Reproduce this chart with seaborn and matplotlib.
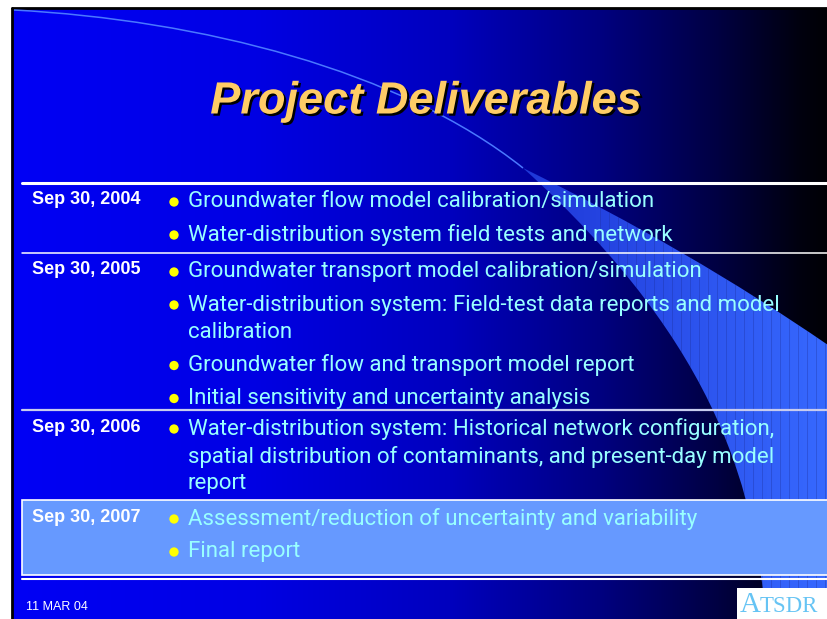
import numpy as np
import matplotlib
matplotlib.use("Agg")
import matplotlib.pyplot as plt
import matplotlib.patheffects as pe
import seaborn as sns
from matplotlib.path import Path
from matplotlib.patches import PathPatch, Rectangle

# === Slide content ===
title = "Project Deliverables"
dates = ["Sep 30, 2004", "Sep 30, 2005", "Sep 30, 2006", "Sep 30, 2007"]
items_2004 = [["Groundwater flow model calibration/simulation"],
              ["Water-distribution system field tests and network"]]
items_2005 = [["Groundwater transport model calibration/simulation"],
              ["Water-distribution system: Field-test data reports and model", "calibration"],
              ["Groundwater flow and transport model report"],
              ["Initial sensitivity and uncertainty analysis"]]
items_2006 = [["Water-distribution system: Historical network configuration,",
               "spatial distribution of contaminants, and present-day model",
               "report"]]
items_2007 = [["Assessment/reduction of uncertainty and variability"],
              ["Final report"]]
footer_date = "11 MAR 04"
logo_big, logo_small = "A", "TSDR"

rows = [items_2004, items_2005, items_2006, items_2007]
row_edges = [183, 253, 410, 500, 575]

sns.set_theme(style="white")
TEXT_FONT = ["Roboto", "DejaVu Sans"]
BOLD_FONT = ["Liberation Sans", "DejaVu Sans"]

W, H = 828, 619
fig = plt.figure(figsize=(8.28, 6.19), dpi=100, facecolor="white")
ax = fig.add_axes([0, 0, 1, 1])
ax.set_xlim(0, W)
ax.set_ylim(H, 0)
ax.axis("off")

# === Background gradient (blue -> black) ===
L, T = 13, 9
xs = np.linspace(L, W, 400)
stops_x = [L, 250, 450, 600, 720, 800, W]
stops_b = [245, 228, 190, 128, 65, 15, 5]
blue = np.interp(xs, stops_x, stops_b) / 255
grad = np.zeros((1, len(xs), 3))
grad[0, :, 2] = blue
ax.imshow(grad, extent=(L, W, H, T), aspect="auto", zorder=0)

# frame
ax.plot([L - 1, L - 1], [T - 1, H], color="black", lw=2, zorder=1)
ax.plot([L - 1, W], [T - 1, T - 1], color="black", lw=2, zorder=1)

# === Swoosh ===
band = Path([(523, 168), (690, 250), (828, 345), (828, 619), (766, 619),
             (755, 500), (725, 350), (523, 168), (523, 168)],
            [Path.MOVETO, Path.CURVE3, Path.CURVE3, Path.LINETO, Path.LINETO,
             Path.CURVE4, Path.CURVE4, Path.CURVE4, Path.CLOSEPOLY])
band_patch = PathPatch(band, facecolor="none", edgecolor="none", zorder=1)
ax.add_patch(band_patch)
bx = np.linspace(0, 1, 200)
bgrad = np.zeros((1, 200, 3))
bgrad[0, :, 0] = np.interp(bx, [0, 1], [30, 55]) / 255
bgrad[0, :, 1] = np.interp(bx, [0, 1], [55, 105]) / 255
bgrad[0, :, 2] = np.interp(bx, [0, 1], [215, 255]) / 255
im = ax.imshow(bgrad, extent=(523, W, H, 168), aspect="auto", zorder=1)
im.set_clip_path(band_patch)
for sx in np.arange(600, W, 9):
    ln = ax.plot([sx, sx], [168, H], color="#1a2a90", lw=0.6, alpha=0.35, zorder=1)[0]
    ln.set_clip_path(band_patch)

arc = Path([(14, 10), (200, 20), (400, 70), (523, 168)],
           [Path.MOVETO, Path.CURVE4, Path.CURVE4, Path.CURVE4])
ax.add_patch(PathPatch(arc, facecolor="none", edgecolor="#4a78ff", lw=1.1, zorder=1))

# === Title with drop shadow ===
ax.text(426, 102, title, color="#FFCC66", ha="center", va="center", fontsize=32.5,
        fontweight="bold", fontstyle="italic", family=BOLD_FONT, zorder=3,
        path_effects=[pe.SimplePatchShadow(offset=(1.6, -1.6), shadow_rgbFace="black",
                                           alpha=1.0), pe.Normal()])

# === Table ===
ax.add_patch(Rectangle((22, row_edges[3]), W - 22, row_edges[4] - row_edges[3],
                       facecolor="#6699FF", edgecolor="white", lw=1.2, zorder=2))
ax.plot([22, W], [row_edges[0], row_edges[0]], color="white", lw=2.2, zorder=3)
ax.plot([22, W], [row_edges[1], row_edges[1]], color="white", lw=1.1, zorder=3)
ax.plot([22, W], [row_edges[2], row_edges[2]], color="#C8CCEE", lw=1.6, zorder=3)
ax.plot([22, W], [row_edges[4] + 4, row_edges[4] + 4], color="white", lw=1.5, zorder=3)

bullet_x, bullet_y = [], []
for date, items, top in zip(dates, rows, row_edges):
    y = top + 19
    ax.text(32, y - 2, date, color="white", fontsize=13, fontweight="bold",
            family=BOLD_FONT, ha="left", va="center", zorder=4)
    for item in items:
        bullet_x.append(174)
        bullet_y.append(y)
        for k, line in enumerate(item):
            ax.text(188, y, line, color="#99FFFF", fontsize=16, family=TEXT_FONT,
                    ha="left", va="center", zorder=4)
            if k < len(item) - 1:
                y += 27.5
        y += 33

sns.scatterplot(x=bullet_x, y=bullet_y, ax=ax, color="#FFFF00", s=45,
                edgecolor="none", zorder=5)

# === Footer ===
ax.text(26, 607, footer_date, color="white", fontsize=9, family=BOLD_FONT,
        ha="left", va="center", zorder=4)
ax.add_patch(Rectangle((737, 588), W - 737, H - 588, facecolor="white",
                       edgecolor="none", zorder=4))
ax.text(740, 612, logo_big, color="#66C4F4", fontsize=21, family=["Liberation Serif"],
        ha="left", va="baseline", zorder=5)
ax.text(760, 612, logo_small, color="#66C4F4", fontsize=16.5, family=["Liberation Serif"],
        ha="left", va="baseline", zorder=5)

fig.savefig("out.png", dpi=100, facecolor="white")
